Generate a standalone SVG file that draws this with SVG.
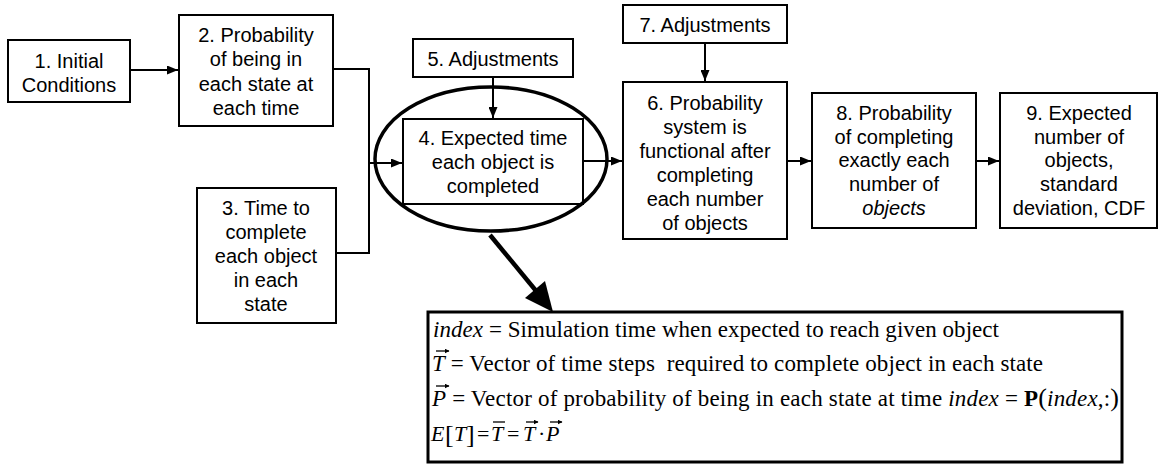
<svg xmlns="http://www.w3.org/2000/svg" width="1159" height="465" viewBox="0 0 1159 465">
<defs>
<style>
.box{fill:#fff;stroke:#000;stroke-width:2}
.t{font-family:"Liberation Sans",Arial,sans-serif;font-size:20px;text-anchor:middle;fill:#000}
.c{fill:none;stroke:#000;stroke-width:2}
.m{font-family:"Liberation Serif","Times New Roman",serif;font-size:23px;fill:#000}
.s{font-size:22px}
.b{font-size:26px}
.i{font-style:italic}
.vec{fill:none;stroke:#000;stroke-width:1.3}
</style>
<marker id="ah" markerUnits="userSpaceOnUse" markerWidth="11" markerHeight="9" refX="11" refY="4.5" orient="auto">
<path d="M0,0 L11,4.5 L0,9 z" fill="#000"/>
</marker>
<marker id="va" markerUnits="userSpaceOnUse" markerWidth="5" markerHeight="5" refX="4.5" refY="2.5" orient="auto">
<path d="M0,0 L5,2.5 L0,5 z" fill="#000"/>
</marker>
</defs>
<rect width="1159" height="465" fill="#fff"/>
<g id="connectors">
<path class="c" d="M130,70 H178" marker-end="url(#ah)"/>
<path class="c" d="M333,69 H369 V253 H336"/>
<path class="c" d="M369,163 H402" marker-end="url(#ah)"/>
<path class="c" d="M493,77 V118" marker-end="url(#ah)"/>
<path class="c" d="M583,161 H622" marker-end="url(#ah)"/>
<path class="c" d="M705,43 V81" marker-end="url(#ah)"/>
<path class="c" d="M787,161 H811" marker-end="url(#ah)"/>
<path class="c" d="M976,161 H999" marker-end="url(#ah)"/>
<path d="M490,235 L537,292" stroke="#000" stroke-width="4.5" fill="none"/>
<polygon points="553,312 525,298 545,281" fill="#000"/>
</g>
<g id="n1"><rect class="box" x="8" y="40" width="122" height="62"/>
<text class="t" x="69" y="68">1. Initial</text><text class="t" x="69" y="92">Conditions</text></g>
<g id="n2"><rect class="box" x="179" y="15" width="154" height="111"/>
<text class="t" x="256" y="42">2. Probability</text><text class="t" x="256" y="66">of being in</text><text class="t" x="256" y="91">each state at</text><text class="t" x="256" y="115">each time</text></g>
<g id="n3"><rect class="box" x="197" y="188" width="139" height="135"/>
<text class="t" x="266" y="215">3. Time to</text><text class="t" x="266" y="239">complete</text><text class="t" x="266" y="263">each object</text><text class="t" x="266" y="287">in each</text><text class="t" x="266" y="311">state</text></g>
<g id="n4"><rect class="box" x="403" y="119" width="180" height="85"/>
<text class="t" x="493" y="145">4. Expected time</text><text class="t" x="493" y="169">each object is</text><text class="t" x="493" y="193">completed</text></g>
<g id="highlight"><ellipse cx="491" cy="159" rx="116" ry="72" fill="none" stroke="#000" stroke-width="3.5"/></g>
<g id="n5"><rect class="box" x="413" y="39" width="160" height="38"/>
<text class="t" x="493" y="66">5. Adjustments</text></g>
<g id="n7"><rect class="box" x="623" y="5" width="164" height="38"/>
<text class="t" x="705" y="32">7. Adjustments</text></g>
<g id="n6"><rect class="box" x="623" y="82" width="164" height="157"/>
<text class="t" x="705" y="110">6. Probability</text><text class="t" x="705" y="134">system is</text><text class="t" x="705" y="158">functional after</text><text class="t" x="705" y="182">completing</text><text class="t" x="705" y="206">each number</text><text class="t" x="705" y="230">of objects</text></g>
<g id="n8"><rect class="box" x="812" y="93" width="164" height="135"/>
<text class="t" x="894" y="120">8. Probability</text><text class="t" x="894" y="144">of completing</text><text class="t" x="894" y="167">exactly each</text><text class="t" x="894" y="191">number of</text><text class="t" x="894" y="215" font-style="italic">objects</text></g>
<g id="n9"><rect class="box" x="1000" y="93" width="157" height="135"/>
<text class="t" x="1079" y="120">9. Expected</text><text class="t" x="1079" y="144">number of</text><text class="t" x="1079" y="167">objects,</text><text class="t" x="1079" y="191">standard</text><text class="t" x="1079" y="215">deviation, CDF</text></g>
<g id="formulas">
<rect x="428" y="312" width="694" height="150" fill="#fff" stroke="#000" stroke-width="3"/>
<text class="m" x="433" y="337" textLength="566" lengthAdjust="spacing"><tspan class="i">index</tspan> = Simulation time when expected to reach given object</text>
<text class="m" x="432" y="371" textLength="611" lengthAdjust="spacing"><tspan class="i">T</tspan> = Vector of time steps&#160; required to complete object in each state</text>
<path class="vec" d="M436,351 H449" marker-end="url(#va)"/>
<text class="m" x="432" y="406" textLength="687" lengthAdjust="spacing"><tspan class="i">P</tspan> = Vector of probability of being in each state at time <tspan class="i">index</tspan> = <tspan font-weight="bold">P</tspan><tspan class="b">(</tspan><tspan class="i">index</tspan>,:<tspan class="b">)</tspan></text>
<path class="vec" d="M436,386 H449" marker-end="url(#va)"/>
<text class="m s i" x="431" y="441">E</text>
<text class="m b" x="445" y="443">[</text>
<text class="m s i" x="454" y="441">T</text>
<text class="m b" x="466" y="443">]</text>
<text class="m s" x="477" y="441">=</text>
<text class="m s i" x="491" y="441">T</text>
<path class="vec" d="M493,422 H505"/>
<text class="m s" x="507" y="441">=</text>
<text class="m s i" x="523" y="441">T</text>
<path class="vec" d="M526,422 H538" marker-end="url(#va)"/>
<text class="m s" x="538" y="441">·</text>
<text class="m s i" x="546" y="441">P</text>
<path class="vec" d="M550,422 H562" marker-end="url(#va)"/>
</g>
</svg>
